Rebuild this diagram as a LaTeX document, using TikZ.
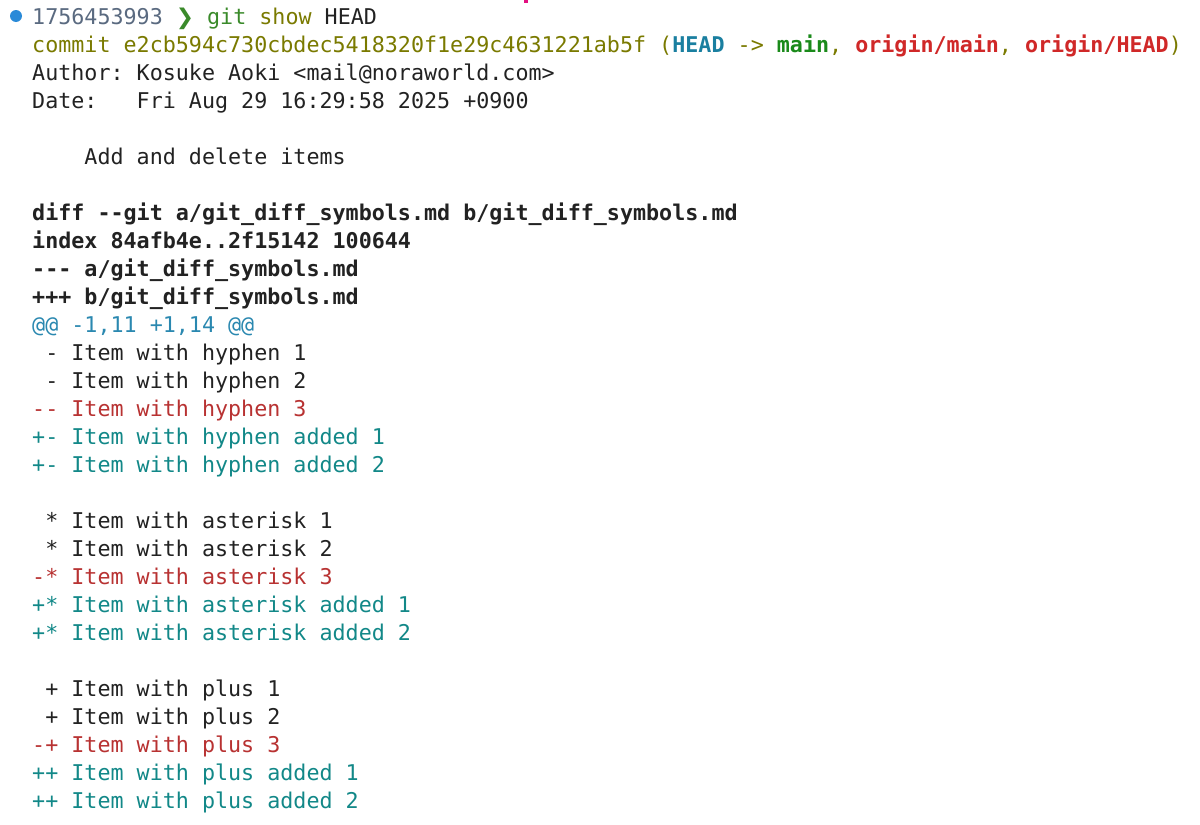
\documentclass[tikz,border=0pt]{standalone}
\usepackage{fontspec}
\setmonofont{DejaVu Sans Mono}
\newfontfamily\symfont{DejaVu Sans}
\definecolor{txt}{HTML}{222222}
\definecolor{olive}{HTML}{7A7A00}
\definecolor{headc}{HTML}{1A7FA0}
\definecolor{mainc}{HTML}{1A8A1A}
\definecolor{origc}{HTML}{D02828}
\definecolor{delc}{HTML}{B83232}
\definecolor{addc}{HTML}{128888}
\definecolor{hunkc}{HTML}{2A88B0}
\definecolor{promptc}{HTML}{5A6A80}
\definecolor{gitc}{HTML}{3A8A2A}
\definecolor{dotc}{HTML}{2A8AD8}
\tikzset{ln/.style={anchor=base west,inner sep=0pt,font=\fontsize{21.7bp}{26bp}\ttfamily,text=txt}}
\begin{document}
\begin{tikzpicture}[x=1bp,y=-1bp]
\fill[white] (0,0) rectangle (1200,825);
\useasboundingbox (0,0) rectangle (1200,825);
\fill[magenta!80!purple] (524,0) rectangle (528,3);
\fill[dotc] (16,16) circle (6);
\def\L#1#2{\node[ln] (l#1) at (32,{24+28*#1}) {#2};}
\L{0}{\textcolor{promptc}{1756453993}~\textcolor{gitc}{{\symfont\char"276F}}~\textcolor{gitc}{git}~\textcolor{olive}{show}~HEAD}
\L{1}{\textcolor{olive}{commit~e2cb594c730cbdec5418320f1e29c4631221ab5f~(}\textcolor{headc}{\bfseries HEAD}\textcolor{olive}{~->~}\textcolor{mainc}{\bfseries main}\textcolor{olive}{,~}\textcolor{origc}{\bfseries origin/main}\textcolor{olive}{,~}\textcolor{origc}{\bfseries origin/HEAD}\textcolor{olive}{)}}
\L{2}{Author:~Kosuke~Aoki~<mail@noraworld.com>}
\L{3}{Date:~~~Fri~Aug~29~16:29:58~2025~+0900}
\L{5}{~~~~Add~and~delete~items}
\L{7}{\bfseries diff~-{}-git~a/git\_diff\_symbols.md~b/git\_diff\_symbols.md}
\L{8}{\bfseries index~84afb4e..2f15142~100644}
\L{9}{\bfseries -{}-{}-~a/git\_diff\_symbols.md}
\L{10}{\bfseries +++~b/git\_diff\_symbols.md}
\L{11}{\textcolor{hunkc}{@@~-1,11~+1,14~@@}}
\L{12}{~-~Item~with~hyphen~1}
\L{13}{~-~Item~with~hyphen~2}
\L{14}{\textcolor{delc}{-{}-~Item~with~hyphen~3}}
\L{15}{\textcolor{addc}{+-~Item~with~hyphen~added~1}}
\L{16}{\textcolor{addc}{+-~Item~with~hyphen~added~2}}
\L{18}{~*~Item~with~asterisk~1}
\L{19}{~*~Item~with~asterisk~2}
\L{20}{\textcolor{delc}{-*~Item~with~asterisk~3}}
\L{21}{\textcolor{addc}{+*~Item~with~asterisk~added~1}}
\L{22}{\textcolor{addc}{+*~Item~with~asterisk~added~2}}
\L{24}{~+~Item~with~plus~1}
\L{25}{~+~Item~with~plus~2}
\L{26}{\textcolor{delc}{-+~Item~with~plus~3}}
\L{27}{\textcolor{addc}{++~Item~with~plus~added~1}}
\L{28}{\textcolor{addc}{++~Item~with~plus~added~2}}
\end{tikzpicture}
\end{document}
